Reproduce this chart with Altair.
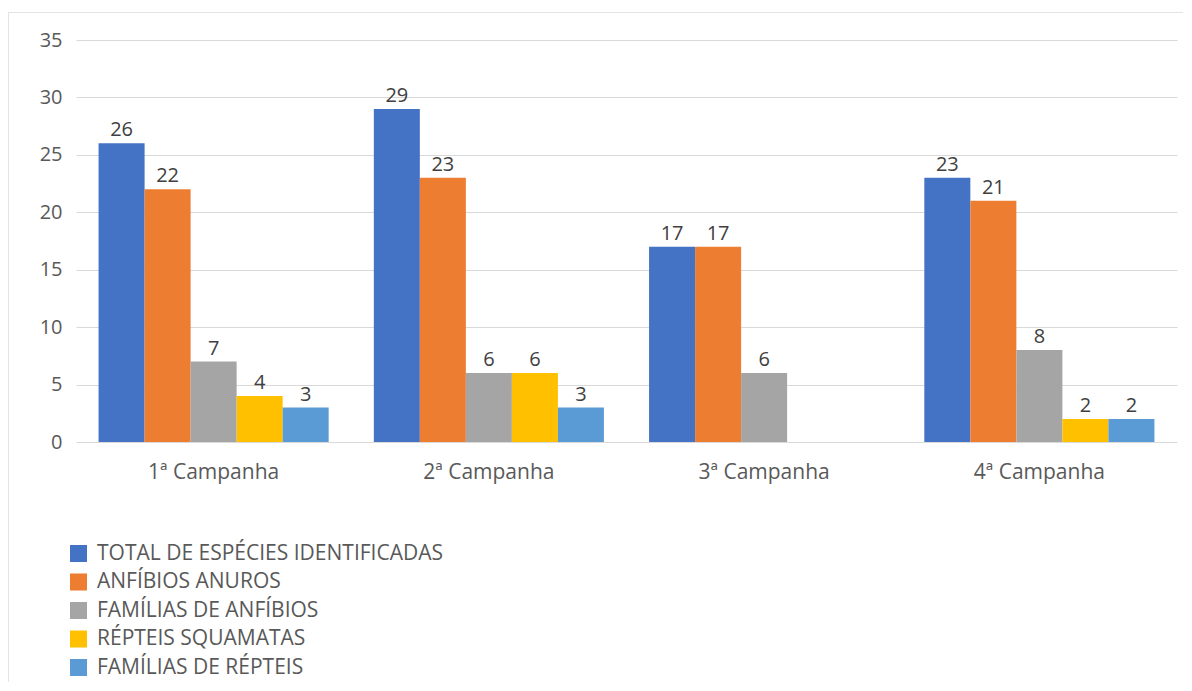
import altair as alt
import pandas as pd

campaigns = ["1ª Campanha", "2ª Campanha", "3ª Campanha", "4ª Campanha"]
series = [
    "TOTAL DE ESPÉCIES IDENTIFICADAS",
    "ANFÍBIOS ANUROS",
    "FAMÍLIAS DE ANFÍBIOS",
    "RÉPTEIS SQUAMATAS",
    "FAMÍLIAS DE RÉPTEIS",
]
colors = ["#4472C4", "#ED7D31", "#A5A5A5", "#FFC000", "#5B9BD5"]

total_especies = [26, 29, 17, 23]
anfibios_anuros = [22, 23, 17, 21]
familias_anfibios = [7, 6, 6, 8]
repteis_squamatas = [4, 6, None, 2]
familias_repteis = [3, 3, None, 2]

values = [total_especies, anfibios_anuros, familias_anfibios, repteis_squamatas, familias_repteis]
rows = []
for s, vals in zip(series, values):
    for c, v in zip(campaigns, vals):
        if v is not None:
            rows.append({"campanha": c, "serie": s, "valor": v})
df = pd.DataFrame(rows)

FONT = "Open Sans"
TXT = "#595959"
W, H = 1101, 402
PAD = {"left": 68, "top": 32, "right": 6, "bottom": 240}

x_enc = alt.X("campanha:N", sort=campaigns,
              scale=alt.Scale(domain=campaigns, paddingInner=0.164, paddingOuter=0.082),
              axis=alt.Axis(title=None, labelAngle=0, domain=False, ticks=False, grid=False,
                            labelPadding=19, labelFontSize=21, labelColor=TXT, labelFont=FONT))
xoff = alt.XOffset("serie:N", sort=series,
                   scale=alt.Scale(domain=series, paddingInner=0, paddingOuter=0))
y_enc = alt.Y("valor:Q", scale=alt.Scale(domain=[0, 35], nice=False),
              axis=alt.Axis(title=None, values=[0, 5, 10, 15, 20, 25, 30, 35],
                            domain=False, ticks=False, gridColor="#D9D9D9", gridWidth=1,
                            labelPadding=14, labelFontSize=20, labelColor=TXT, labelFont=FONT))

bars = alt.Chart(df).mark_bar().encode(
    x=x_enc,
    xOffset=xoff,
    y=y_enc,
    color=alt.Color("serie:N", sort=series,
                    scale=alt.Scale(domain=series, range=colors),
                    legend=alt.Legend(title=None, orient="none", legendX=-8, legendY=503,
                                      direction="vertical", symbolType="square",
                                      symbolSize=290, symbolStrokeWidth=0,
                                      labelFontSize=21, labelColor=TXT, labelFont=FONT,
                                      labelLimit=700, rowPadding=6.5, labelOffset=8,
                                      padding=0)),
)

labels = alt.Chart(df).mark_text(baseline="alphabetic", dy=-7, fontSize=20,
                                 color="#404040", font=FONT).encode(
    x=alt.X("campanha:N", sort=campaigns),
    xOffset=alt.XOffset("serie:N", sort=series),
    y="valor:Q",
    text="valor:Q",
)

# faint outer chart border (top and left edges visible in the reference)
border_top = alt.Chart(df).mark_rule(color="#E3E3E3", strokeWidth=1).encode(
    x=alt.value(-PAD["left"]), x2=alt.value(W + PAD["right"]), y=alt.value(-PAD["top"] + 4.5))
border_left = alt.Chart(df).mark_rule(color="#E3E3E3", strokeWidth=1).encode(
    x=alt.value(-PAD["left"] + 0.5), y=alt.value(-PAD["top"] + 4), y2=alt.value(H + PAD["bottom"]))

chart = (border_top + border_left + bars + labels).properties(
    width=W, height=H,
    autosize=alt.AutoSizeParams(type="none"),
    padding=PAD,
    background="white",
).configure_view(stroke=None, strokeWidth=0)

chart.save("out.html", embed_options={"renderer": "svg", "actions": False})
